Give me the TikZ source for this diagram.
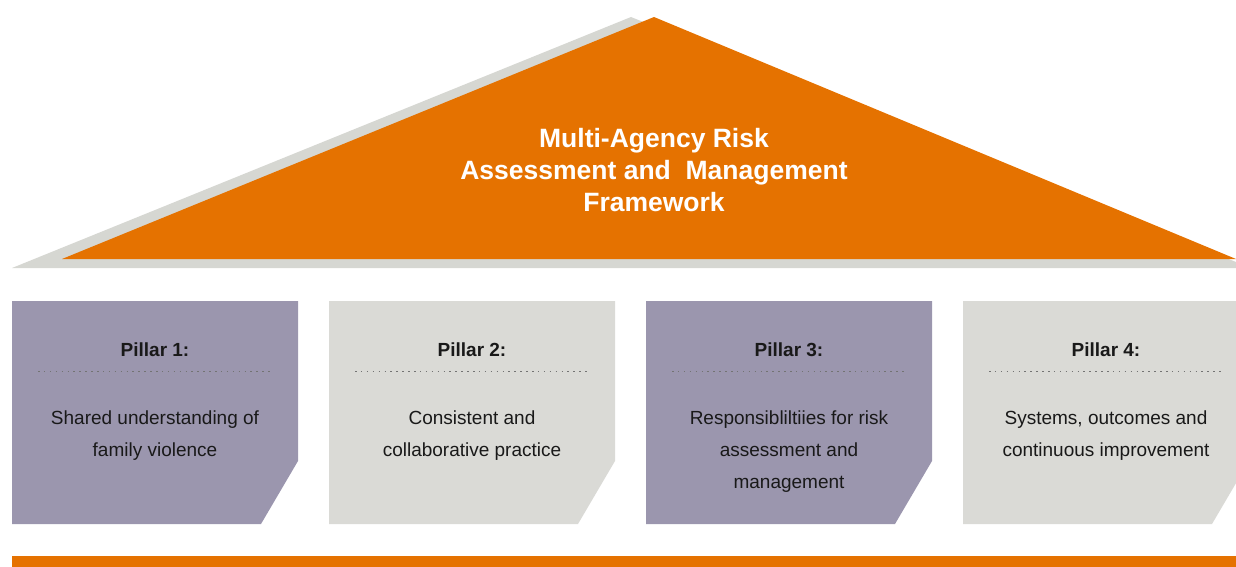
\documentclass[tikz,border=0pt]{standalone}
\usepackage{fontspec}
\setmainfont{Liberation Sans}
\usepackage{xcolor}
\definecolor{rooforange}{HTML}{E57200}
\definecolor{roofgrey}{HTML}{D6D7D2}
\definecolor{pillarpurple}{HTML}{9B96AE}
\definecolor{pillargrey}{HTML}{DADAD6}
\usetikzlibrary{positioning}

\begin{document}
\begin{tikzpicture}[
        x=1pt, y=-1pt,
        node distance=54pt,
        rooftitle/.style={font=\fontsize{26.5}{32}\selectfont\bfseries, text=white, align=center, inner sep=0pt},
        pillarhead/.style={font=\fontsize{19}{32}\selectfont\bfseries, text=black!90, inner sep=0pt},
        pillarbody/.style={font=\fontsize{19}{32}\selectfont, text=black!90, align=center, inner sep=0pt},
        dots/.style={black!55, line width=1.5pt, dash pattern=on 1.5pt off 4.4pt}
    ]
        \useasboundingbox (0,0) rectangle (1236,567);
        \clip (0,0) rectangle (1236,567);

        % Roof
        \fill[roofgrey] (12,268) -- (631,17) -- (1236,262) -- (1236,268) -- cycle;
        \fill[rooforange] (62,259) -- (654,17) -- (1236,259) -- cycle;
        \node[rooftitle] (title) at (654,170) {Multi-Agency Risk\\Assessment and\ \ Management\\Framework};

        % Pillars
        \fill[pillarpurple] (12,301) -- (298,301) -- (298,461) -- (261,524) -- (12,524) -- cycle;
        \fill[pillargrey] (329,301) -- (615,301) -- (615,461) -- (578,524) -- (329,524) -- cycle;
        \fill[pillarpurple] (646,301) -- (932,301) -- (932,461) -- (895,524) -- (646,524) -- cycle;
        \fill[pillargrey] (963,301) -- (1249,301) -- (1249,461) -- (1212,524) -- (963,524) -- cycle;

        % Pillar 1
        \node[pillarhead, anchor=base] (p1head) at (155,356) {Pillar 1:};
        \draw[dots] ([xshift=-117pt, yshift=-15pt]p1head.south) -- ([xshift=117pt, yshift=-15pt]p1head.south);
        \node[pillarbody, below=of p1head] (p1body) {Shared understanding of\\family violence};

        % Pillar 2
        \node[pillarhead, anchor=base] (p2head) at (472,356) {Pillar 2:};
        \draw[dots] ([xshift=-117pt, yshift=-15pt]p2head.south) -- ([xshift=117pt, yshift=-15pt]p2head.south);
        \node[pillarbody, below=of p2head] (p2body) {Consistent and\\collaborative practice};

        % Pillar 3
        \node[pillarhead, anchor=base] (p3head) at (789,356) {Pillar 3:};
        \draw[dots] ([xshift=-117pt, yshift=-15pt]p3head.south) -- ([xshift=117pt, yshift=-15pt]p3head.south);
        \node[pillarbody, below=of p3head] (p3body) {Responsibliltiies for risk\\assessment and\\management};

        % Pillar 4
        \node[pillarhead, anchor=base] (p4head) at (1106,356) {Pillar 4:};
        \draw[dots] ([xshift=-117pt, yshift=-15pt]p4head.south) -- ([xshift=117pt, yshift=-15pt]p4head.south);
        \node[pillarbody, below=of p4head] (p4body) {Systems, outcomes and\\continuous improvement};

        % Base
        \fill[rooforange] (12,556) rectangle (1236,567);

    \end{tikzpicture}
\end{document}
